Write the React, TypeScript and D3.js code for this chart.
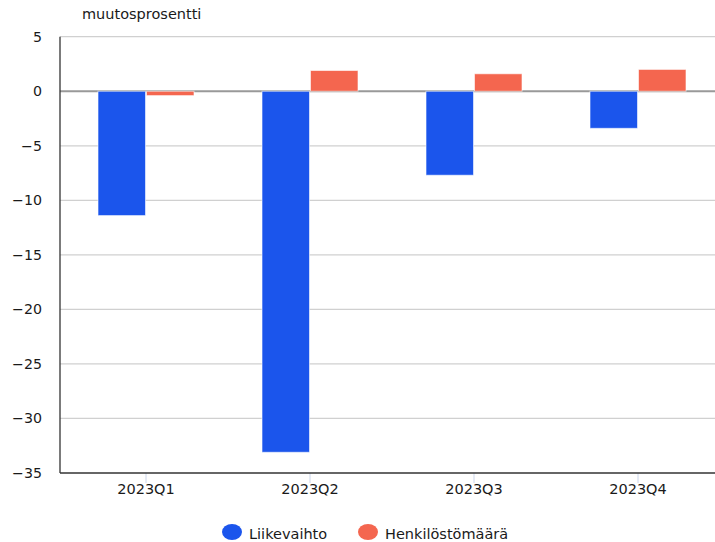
import React from "react";
import * as d3 from "d3";

const categories = ["2023Q1", "2023Q2", "2023Q3", "2023Q4"];
const seriesNames = ["Liikevaihto", "Henkilöstömäärä"];
const liikevaihto = [-11.4, -33.1, -7.7, -3.4];
const henkilosto = [-0.4, 1.9, 1.6, 2.0];
const yTicks = [5, 0, -5, -10, -15, -20, -25, -30, -35];
const colors = ["#1b55ec", "#f4664f"];

const W = 715;
const H = 542;
const left = 60;
const right = 715;
const top = 36.7;
const bottom = 473;
const font = "'DejaVu Sans', Verdana, sans-serif";

export default function App() {
  const y = d3.scaleLinear().domain([-35, 5]).range([bottom, top]);
  const x = d3.scaleBand<string>().domain(categories).range([64, 720]).paddingInner(0).paddingOuter(0);
  const inner = d3.scaleBand<string>().domain(seriesNames).range([0, 96]).paddingInner(0.02);
  const series = [liikevaihto, henkilosto];
  const bw = x.bandwidth();

  return (
    <svg width={W} height={H} style={{ position: "absolute", left: 0, top: 0, fontFamily: font }}>
      <rect width={W} height={H} fill="#fff" />
      {yTicks.map((t) => (
        <g key={t}>
          {t !== -35 && (
            <line x1={left} x2={right} y1={y(t)} y2={y(t)} stroke={t === 0 ? "#999" : "#d0d0d0"} strokeWidth={t === 0 ? 2 : 1.3} />
          )}
          <text x={42} y={y(t)} dy="0.35em" textAnchor="end" fontSize={14.2} fill="#1a1a1a">
            {t < 0 ? "\u2212" + Math.abs(t) : String(t)}
          </text>
        </g>
      ))}
      {categories.map((c, i) => {
        const gx = (x(c) as number) + bw / 2 - 48;
        return (
          <g key={c}>
            {series.map((s, j) => {
              const v = s[i];
              const y0 = y(0);
              const y1 = y(v);
              return (
                <rect
                  key={j}
                  x={gx + (inner(seriesNames[j]) as number)}
                  y={Math.min(y0, y1)}
                  width={inner.bandwidth()}
                  height={Math.abs(y1 - y0)}
                  fill={colors[j]}
                  stroke="#ffffff"
                  strokeOpacity={0.6}
                  strokeWidth={1}
                />
              );
            })}
            <line x1={(x(c) as number) + bw / 2} x2={(x(c) as number) + bw / 2} y1={bottom} y2={bottom + 10} stroke="#ccd6eb" strokeWidth={1} />
            <text x={(x(c) as number) + bw / 2} y={494} textAnchor="middle" fontSize={14.5} fill="#1a1a1a">
              {c}
            </text>
          </g>
        );
      })}
      <line x1={left} x2={left} y1={top} y2={bottom} stroke="#333" strokeWidth={1.3} />
      <line x1={left} x2={right} y1={bottom} y2={bottom} stroke="#333" strokeWidth={1.3} />
      <text x={82} y={19} fontSize={14.5} fill="#1a1a1a">muutosprosentti</text>
      <g>
        <ellipse cx={232} cy={532} rx={10} ry={8} fill={colors[0]} />
        <text x={249} y={539} fontSize={14.5} fill="#1a1a1a">{seriesNames[0]}</text>
        <ellipse cx={368} cy={532} rx={10} ry={8} fill={colors[1]} />
        <text x={385} y={539} fontSize={14.5} fill="#1a1a1a">{seriesNames[1]}</text>
      </g>
    </svg>
  );
}
